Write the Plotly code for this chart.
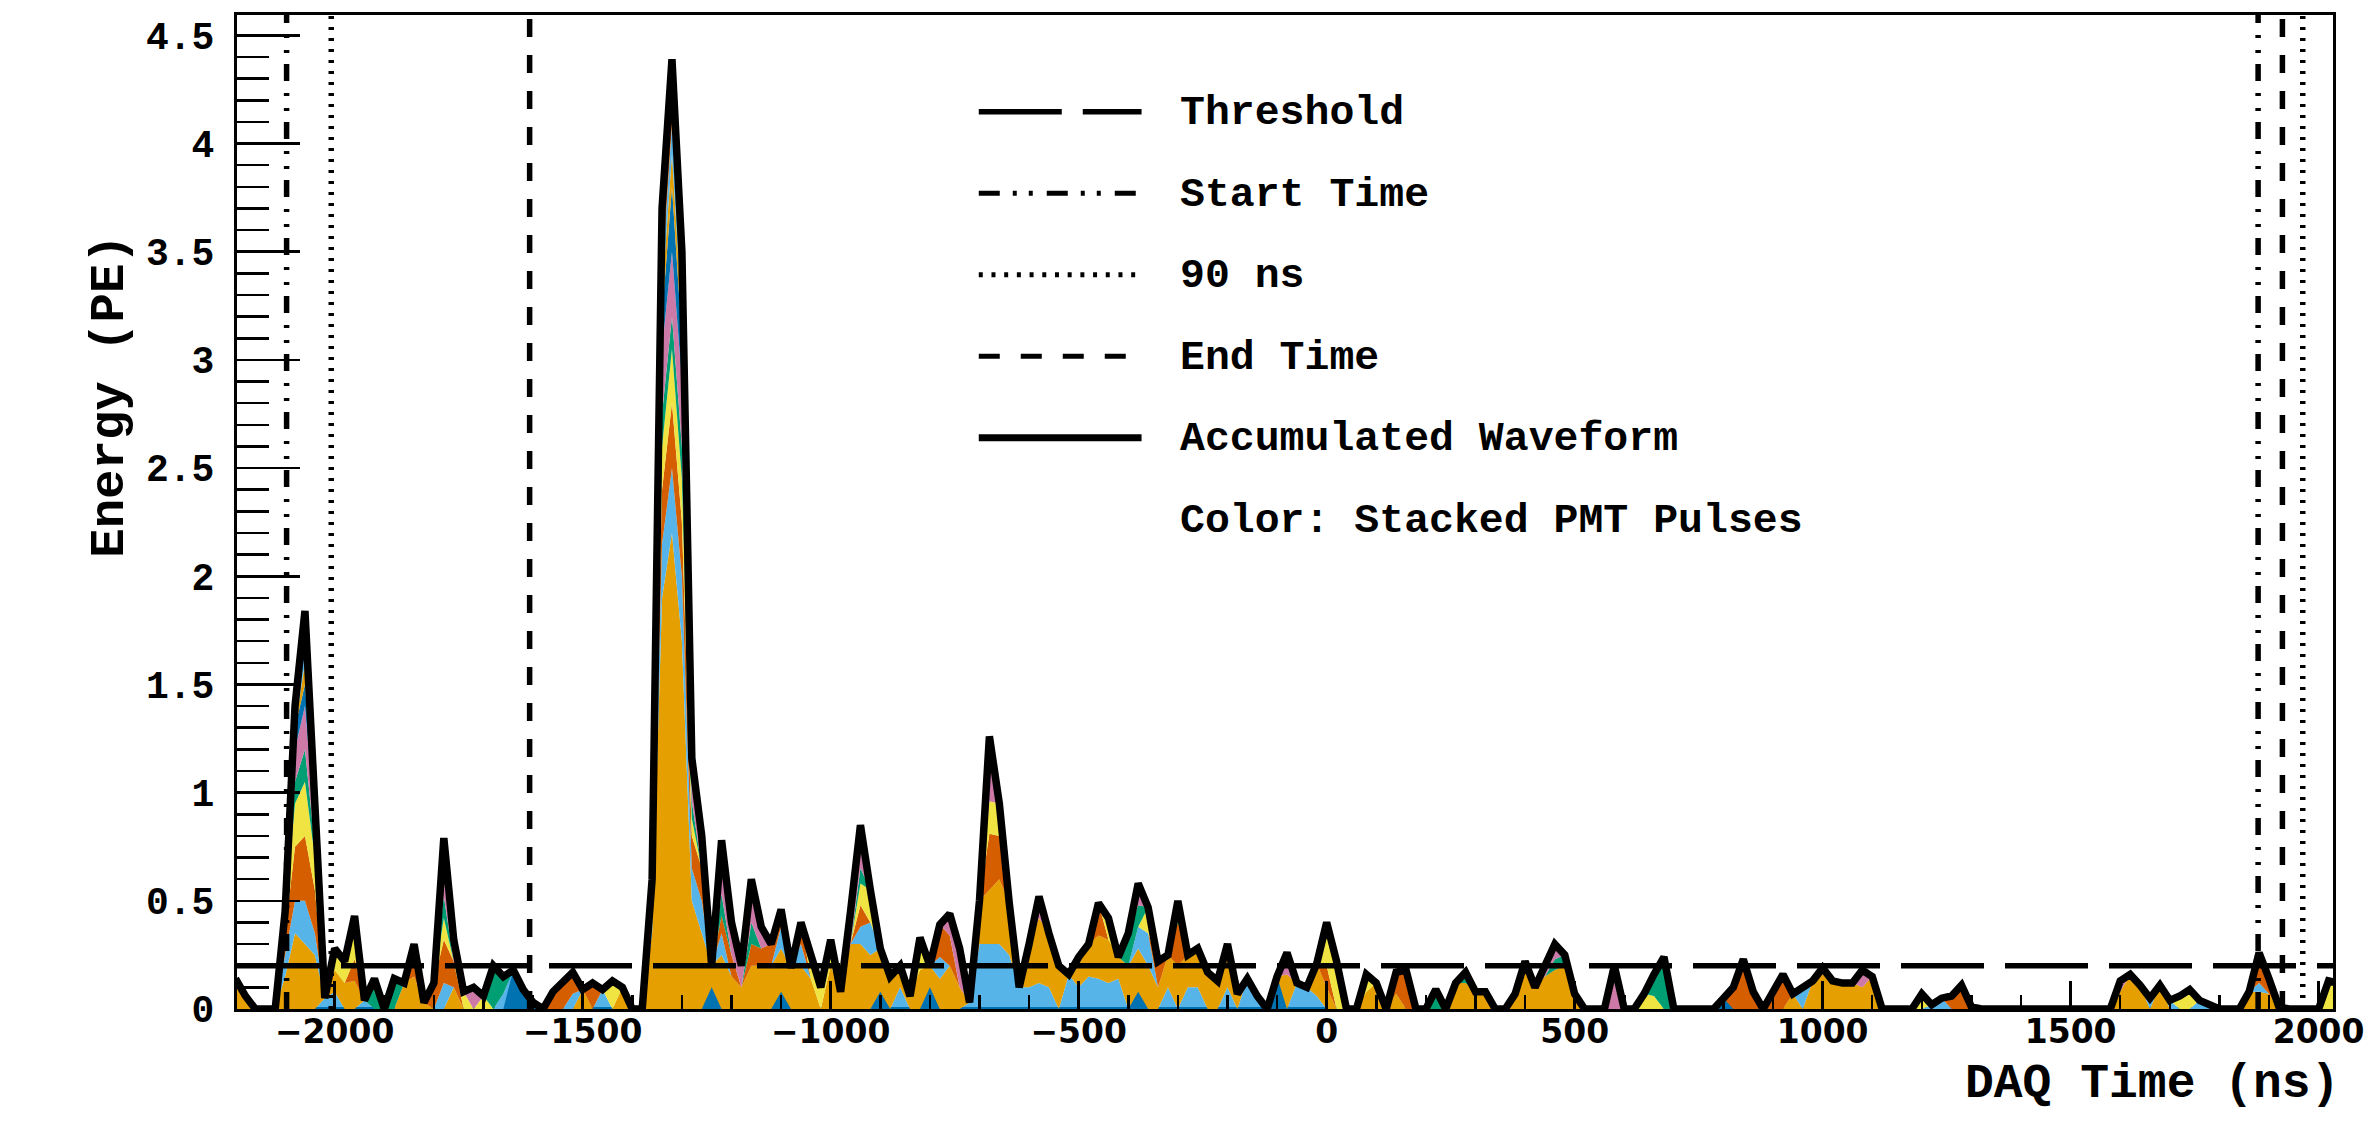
import numpy as np
import pandas as pd
import plotly.graph_objects as go

# ---------------- data ----------------
sample_step_ns = 20
first_sample_ns = -2200
last_sample_ns = 2040

# PMT pulses, one list per stacked PMT layer: (sample time in ns, energy in PE)
pmt_blue = [(-1640, 0.18), (-1620, 0.09), (-1240, 0.10), (-1100, 0.08), (-900, 0.08),
            (-800, 0.10), (-380, 0.08), (-100, 0.15), (800, 0.05)]
pmt_sky_low = [(-2020, 0.05), (-2000, 0.08), (-1940, 0.04), (-1600, 0.03), (-1460, 0.09),
               (-860, 0.10), (-720, 0.03), (-700, 0.30), (-680, 0.30), (-660, 0.30),
               (-640, 0.25), (-620, 0.10), (-600, 0.10), (-580, 0.12), (-560, 0.10),
               (-520, 0.16), (-500, 0.10), (-480, 0.15), (-460, 0.14), (-440, 0.12),
               (-420, 0.14), (-320, 0.10), (-280, 0.10), (-260, 0.10), (-200, 0.10),
               (-160, 0.14), (-140, 0.06), (-60, 0.12), (-40, 0.10), (-20, 0.06)]
pmt_orange = [(-2200, 0.14), (-2180, 0.06), (-2100, 0.15), (-2080, 0.35), (-2060, 0.30),
              (-2040, 0.25), (-2000, 0.10), (-1980, 0.12), (-1960, 0.13), (-1860, 0.12),
              (-1840, 0.15), (-1820, 0.03), (-1760, 0.10), (-1500, 0.09), (-1420, 0.10),
              (-1360, 0.35), (-1340, 1.90), (-1320, 2.20), (-1300, 1.70), (-1280, 0.50),
              (-1260, 0.35), (-1240, 0.10), (-1220, 0.25), (-1200, 0.15), (-1180, 0.10),
              (-1160, 0.20), (-1140, 0.20), (-1120, 0.20), (-1100, 0.20), (-1080, 0.19),
              (-1060, 0.20), (-1040, 0.14), (-1000, 0.20), (-980, 0.08), (-960, 0.30),
              (-940, 0.30), (-920, 0.25), (-900, 0.20), (-880, 0.15), (-860, 0.10),
              (-840, 0.06), (-820, 0.18), (-800, 0.10), (-780, 0.14), (-760, 0.20),
              (-740, 0.10), (-700, 0.20), (-680, 0.25), (-660, 0.30), (-640, 0.24),
              (-600, 0.20), (-580, 0.30), (-560, 0.25), (-540, 0.20), (-500, 0.14),
              (-480, 0.15), (-460, 0.20), (-440, 0.20), (-420, 0.10), (-400, 0.20),
              (-380, 0.20), (-360, 0.20), (-340, 0.10), (-320, 0.15), (-300, 0.20),
              (-280, 0.15), (-260, 0.18), (-240, 0.17), (-220, 0.13), (-200, 0.20),
              (-180, 0.07), (-80, 0.16), (-20, 0.15), (0, 0.10), (80, 0.08), (100, 0.12),
              (140, 0.07), (260, 0.12), (280, 0.12), (300, 0.08), (320, 0.08), (380, 0.07),
              (400, 0.22), (420, 0.10), (440, 0.15), (460, 0.18), (480, 0.20), (500, 0.07),
              (940, 0.07), (980, 0.13), (1000, 0.19), (1020, 0.13), (1040, 0.12),
              (1060, 0.12), (1080, 0.10), (1100, 0.15), (1600, 0.08), (1620, 0.16),
              (1640, 0.11), (1680, 0.11), (1860, 0.08), (1880, 0.08), (1900, 0.07)]
pmt_sky = [(-2100, 0.10), (-2080, 0.15), (-2060, 0.20), (-2040, 0.10), (-1780, 0.12),
           (-1660, 0.07), (-1520, 0.07), (-1360, 0.10), (-1340, 0.25), (-1320, 0.30),
           (-1300, 0.30), (-1280, 0.15), (-1260, 0.15), (-1220, 0.10), (-1100, 0.10),
           (-1060, 0.10), (-940, 0.08), (-920, 0.15), (-780, 0.10), (-380, 0.10),
           (-360, 0.15), (960, 0.10), (1220, 0.02), (1240, 0.05), (1660, 0.05),
           (1700, 0.04), (1760, 0.04), (1780, 0.02), (1880, 0.04)]
pmt_vermillion = [(-2100, 0.10), (-2080, 0.25), (-2060, 0.30), (-2040, 0.20), (-1960, 0.10),
                  (-1840, 0.15), (-1800, 0.12), (-1780, 0.20), (-1760, 0.12), (-1560, 0.08),
                  (-1540, 0.12), (-1520, 0.10), (-1480, 0.12), (-1360, 0.15), (-1340, 0.25),
                  (-1320, 0.30), (-1300, 0.25), (-1280, 0.15), (-1260, 0.15), (-1220, 0.08),
                  (-1200, 0.10), (-1160, 0.10), (-1140, 0.08), (-1120, 0.10), (-1100, 0.08),
                  (-1060, 0.10), (-940, 0.10), (-780, 0.15), (-760, 0.14), (-680, 0.26),
                  (-660, 0.20), (-460, 0.15), (-340, 0.12), (-300, 0.20), (0, 0.10),
                  (140, 0.10), (160, 0.18), (820, 0.10), (840, 0.23), (860, 0.08),
                  (900, 0.05), (920, 0.16), (1260, 0.06), (1280, 0.11), (1300, 0.01),
                  (1880, 0.10), (1900, 0.07), (1920, 0.01)]
pmt_yellow = [(-2100, 0.10), (-2080, 0.20), (-2060, 0.25), (-2040, 0.15), (-2000, 0.10),
              (-1980, 0.10), (-1960, 0.20), (-1780, 0.10), (-1740, 0.08), (-1700, 0.06),
              (-1440, 0.13), (-1340, 0.20), (-1320, 0.25), (-1300, 0.20), (-1280, 0.08),
              (-1040, 0.10), (-1020, 0.10), (-1000, 0.12), (-940, 0.10), (-920, 0.15),
              (-820, 0.15), (-680, 0.15), (-660, 0.15), (-440, 0.10), (-360, 0.12),
              (0, 0.20), (20, 0.22), (80, 0.08), (640, 0.07), (660, 0.06), (1200, 0.07),
              (1720, 0.06), (1740, 0.09), (2020, 0.13), (2040, 0.12)]
pmt_green = [(-2080, 0.10), (-2060, 0.15), (-2040, 0.05), (-1920, 0.14), (-1880, 0.14),
             (-1780, 0.10), (-1680, 0.20), (-1660, 0.08), (-1340, 0.15), (-1320, 0.15),
             (-1300, 0.15), (-1280, 0.08), (-1220, 0.10), (-1160, 0.10), (-940, 0.07),
             (-400, 0.15), (-380, 0.10), (-300, 0.10), (220, 0.09), (280, 0.05),
             (460, 0.05), (480, 0.05), (660, 0.10), (680, 0.24)]
pmt_pink = [(-2080, 0.15), (-2060, 0.20), (-2040, 0.10), (-1780, 0.15), (-1760, 0.10),
            (-1720, 0.10), (-1340, 0.30), (-1320, 0.30), (-1300, 0.30), (-1280, 0.20),
            (-1260, 0.15), (-1220, 0.15), (-1200, 0.15), (-1180, 0.10), (-1160, 0.20),
            (-1140, 0.10), (-960, 0.15), (-940, 0.20), (-760, 0.10), (-740, 0.18),
            (-680, 0.20), (-580, 0.10), (-380, 0.10), (-80, 0.10), (440, 0.05),
            (460, 0.07), (580, 0.20), (900, 0.03), (1080, 0.08), (1600, 0.05), (1880, 0.04)]
pmt_blue2 = [(-2080, 0.10), (-2060, 0.10), (-2040, 0.05), (-1780, 0.12), (-1340, 0.15),
             (-1320, 0.30), (-1300, 0.20), (-1220, 0.10), (-680, 0.10)]
pmt_orange2 = [(-2060, 0.10), (-1340, 0.10), (-1320, 0.15), (-1300, 0.10)]
pmt_sky2 = [(-2080, 0.10), (-2060, 0.14), (-1340, 0.10), (-1320, 0.14), (-1300, 0.10)]
pmt_vermillion2 = [(-1340, 0.10), (-1320, 0.10), (-1300, 0.10)]
pmt_yellow2 = [(-1340, 0.10), (-1320, 0.10), (-1300, 0.05)]
pmt_pink2 = [(-2060, 0.10), (-1340, 0.10), (-1320, 0.10), (-1300, 0.05)]

pmt_layers = [pmt_blue, pmt_sky_low, pmt_orange, pmt_sky, pmt_vermillion, pmt_yellow,
              pmt_green, pmt_pink, pmt_blue2, pmt_orange2, pmt_sky2, pmt_vermillion2,
              pmt_yellow2, pmt_pink2]
pmt_colors = ["#0072B2", "#56B4E9", "#E69F00", "#56B4E9", "#D55E00", "#F0E442", "#009E73",
              "#CC79A7", "#0072B2", "#E69F00", "#56B4E9", "#D55E00", "#F0E442", "#CC79A7"]

threshold_pe = 0.2
start_time_ns = [-2097, 1878]
ninety_ns_ns = [-2007, 1968]
end_time_ns = [-1607, 1927]

x_range = [-2197, 2029]
y_range = [0, 4.594]
x_tick_vals = [-2000, -1500, -1000, -500, 0, 500, 1000, 1500, 2000]
x_tick_text = ["\u22122000", "\u22121500", "\u22121000", "\u2212500", "0", "500", "1000", "1500", "2000"]
y_tick_vals = [0, 0.5, 1, 1.5, 2, 2.5, 3, 3.5, 4, 4.5]
y_tick_text = ["0", "0.5", "1", "1.5", "2", "2.5", "3", "3.5", "4", "4.5"]

legend_labels = ["Threshold", "Start Time", "90 ns", "End Time", "Accumulated Waveform",
                 "Color: Stacked PMT Pulses"]
x_title = "DAQ Time (ns)"
y_title = "Energy (PE)"

# ---------------- build ----------------
grid_ns = np.arange(first_sample_ns, last_sample_ns + 1, sample_step_ns)
layer_series = []
for layer in pmt_layers:
    s = pd.Series([p[1] for p in layer], index=[p[0] for p in layer])
    layer_series.append(s.reindex(grid_ns, fill_value=0.0))
accumulated_pe = sum(layer_series)

MONO = "Liberation Mono"
BLACK = "black"

fig = go.Figure()

for i, (s, c) in enumerate(zip(layer_series, pmt_colors)):
    fig.add_trace(go.Scatter(
        x=grid_ns, y=s.values, stackgroup="pmt", mode="lines",
        line=dict(width=4 if i == 0 else 0, color=c),
        fillcolor=c, hoverinfo="skip", showlegend=False))

fig.add_trace(go.Scatter(x=grid_ns, y=accumulated_pe.values, mode="lines",
                         line=dict(color=BLACK, width=7.5), hoverinfo="skip",
                         showlegend=False))

fig.add_trace(go.Scatter(x=x_range, y=[threshold_pe, threshold_pe], mode="lines",
                         line=dict(color=BLACK, width=5.5, dash="83px,21px"),
                         hoverinfo="skip", showlegend=False))

dash_start = "17px,11px,3px,12px,3px,12px"
dash_ninety = "3px,8px"
dash_end = "18px,18px"
for times, dash, w in [(start_time_ns, dash_start, 5.5),
                       (ninety_ns_ns, dash_ninety, 5.5),
                       (end_time_ns, dash_end, 5.5)]:
    for t in times:
        fig.add_trace(go.Scatter(x=[t, t], y=[0, y_range[1]], mode="lines",
                                 line=dict(color=BLACK, width=w, dash=dash),
                                 hoverinfo="skip", showlegend=False))

# ---------------- legend (drawn by hand, ROOT style) ----------------
L, T, W, H = 237, 13, 2104, 996


def px_x(px):
    return (px - L) / W


def px_y(py):
    return (T + H - py) / H


row_py = [110, 191.7, 273.3, 355, 436.7, 518.3]
legend_styles = [("83px,21px", 5.5), ("21px,13px,4px,12px,4px,14px", 5),
                 ("4px,8.7px", 5), ("21px,21px", 5), ("solid", 7), None]
shapes = []
annotations = []
for label, py, sty in zip(legend_labels, row_py, legend_styles):
    if sty is not None:
        shapes.append(dict(type="line", xref="paper", yref="paper",
                           x0=px_x(981.6), x1=px_x(1145), y0=px_y(py), y1=px_y(py),
                           line=dict(color=BLACK, width=sty[1], dash=sty[0])))
    annotations.append(dict(text=label, xref="paper", yref="paper", x=px_x(1182),
                            y=px_y(py + 1), xanchor="left", yanchor="middle",
                            showarrow=False,
                            font=dict(family=MONO, size=41.5, color=BLACK, weight="bold")))

annotations.append(dict(text=x_title, xref="paper", yref="paper", x=px_x(2349),
                        y=px_y(1084), xanchor="right", yanchor="middle", showarrow=False,
                        font=dict(family=MONO, size=48, color=BLACK, weight="bold")))
annotations.append(dict(text=y_title, xref="paper", yref="paper", x=px_x(110),
                        y=px_y(395), xanchor="center", yanchor="middle", showarrow=False,
                        textangle=-90,
                        font=dict(family=MONO, size=49, color=BLACK, weight="bold")))

fig.update_layout(
    width=2376, height=1122,
    margin=dict(l=L, r=2376 - L - W, t=T, b=1122 - T - H, pad=0),
    paper_bgcolor="white", plot_bgcolor="white",
    showlegend=False,
    shapes=shapes, annotations=annotations,
    xaxis=dict(range=x_range, showgrid=False, zeroline=False, showline=True,
               linecolor=BLACK, linewidth=3, mirror=True,
               ticks="inside", ticklen=28, tickwidth=2.5, tickcolor=BLACK,
               tickmode="array", tickvals=x_tick_vals, ticktext=x_tick_text,
               ticklabelstandoff=-9,
               tickfont=dict(family="DejaVu Sans", size=33, color=BLACK, weight="bold"),
               minor=dict(ticks="inside", ticklen=14, tickwidth=2.5, tickcolor=BLACK,
                          tickmode="linear", tick0=0, dtick=100, showgrid=False)),
    yaxis=dict(range=y_range, showgrid=False, zeroline=False, showline=True,
               linecolor=BLACK, linewidth=3, mirror=True,
               ticks="inside", ticklen=63, tickwidth=2.5, tickcolor=BLACK,
               tickmode="array", tickvals=y_tick_vals, ticktext=y_tick_text,
               ticklabelstandoff=12,
               tickfont=dict(family=MONO, size=38, color=BLACK, weight="bold"),
               minor=dict(ticks="inside", ticklen=32, tickwidth=2.5, tickcolor=BLACK,
                          tickmode="linear", tick0=0, dtick=0.1, showgrid=False)),
)

fig.write_html("out.html", include_plotlyjs=True,
               config={"displayModeBar": False, "staticPlot": True},
               post_script="document.body.style.margin='0px';document.body.style.overflow='hidden';")
